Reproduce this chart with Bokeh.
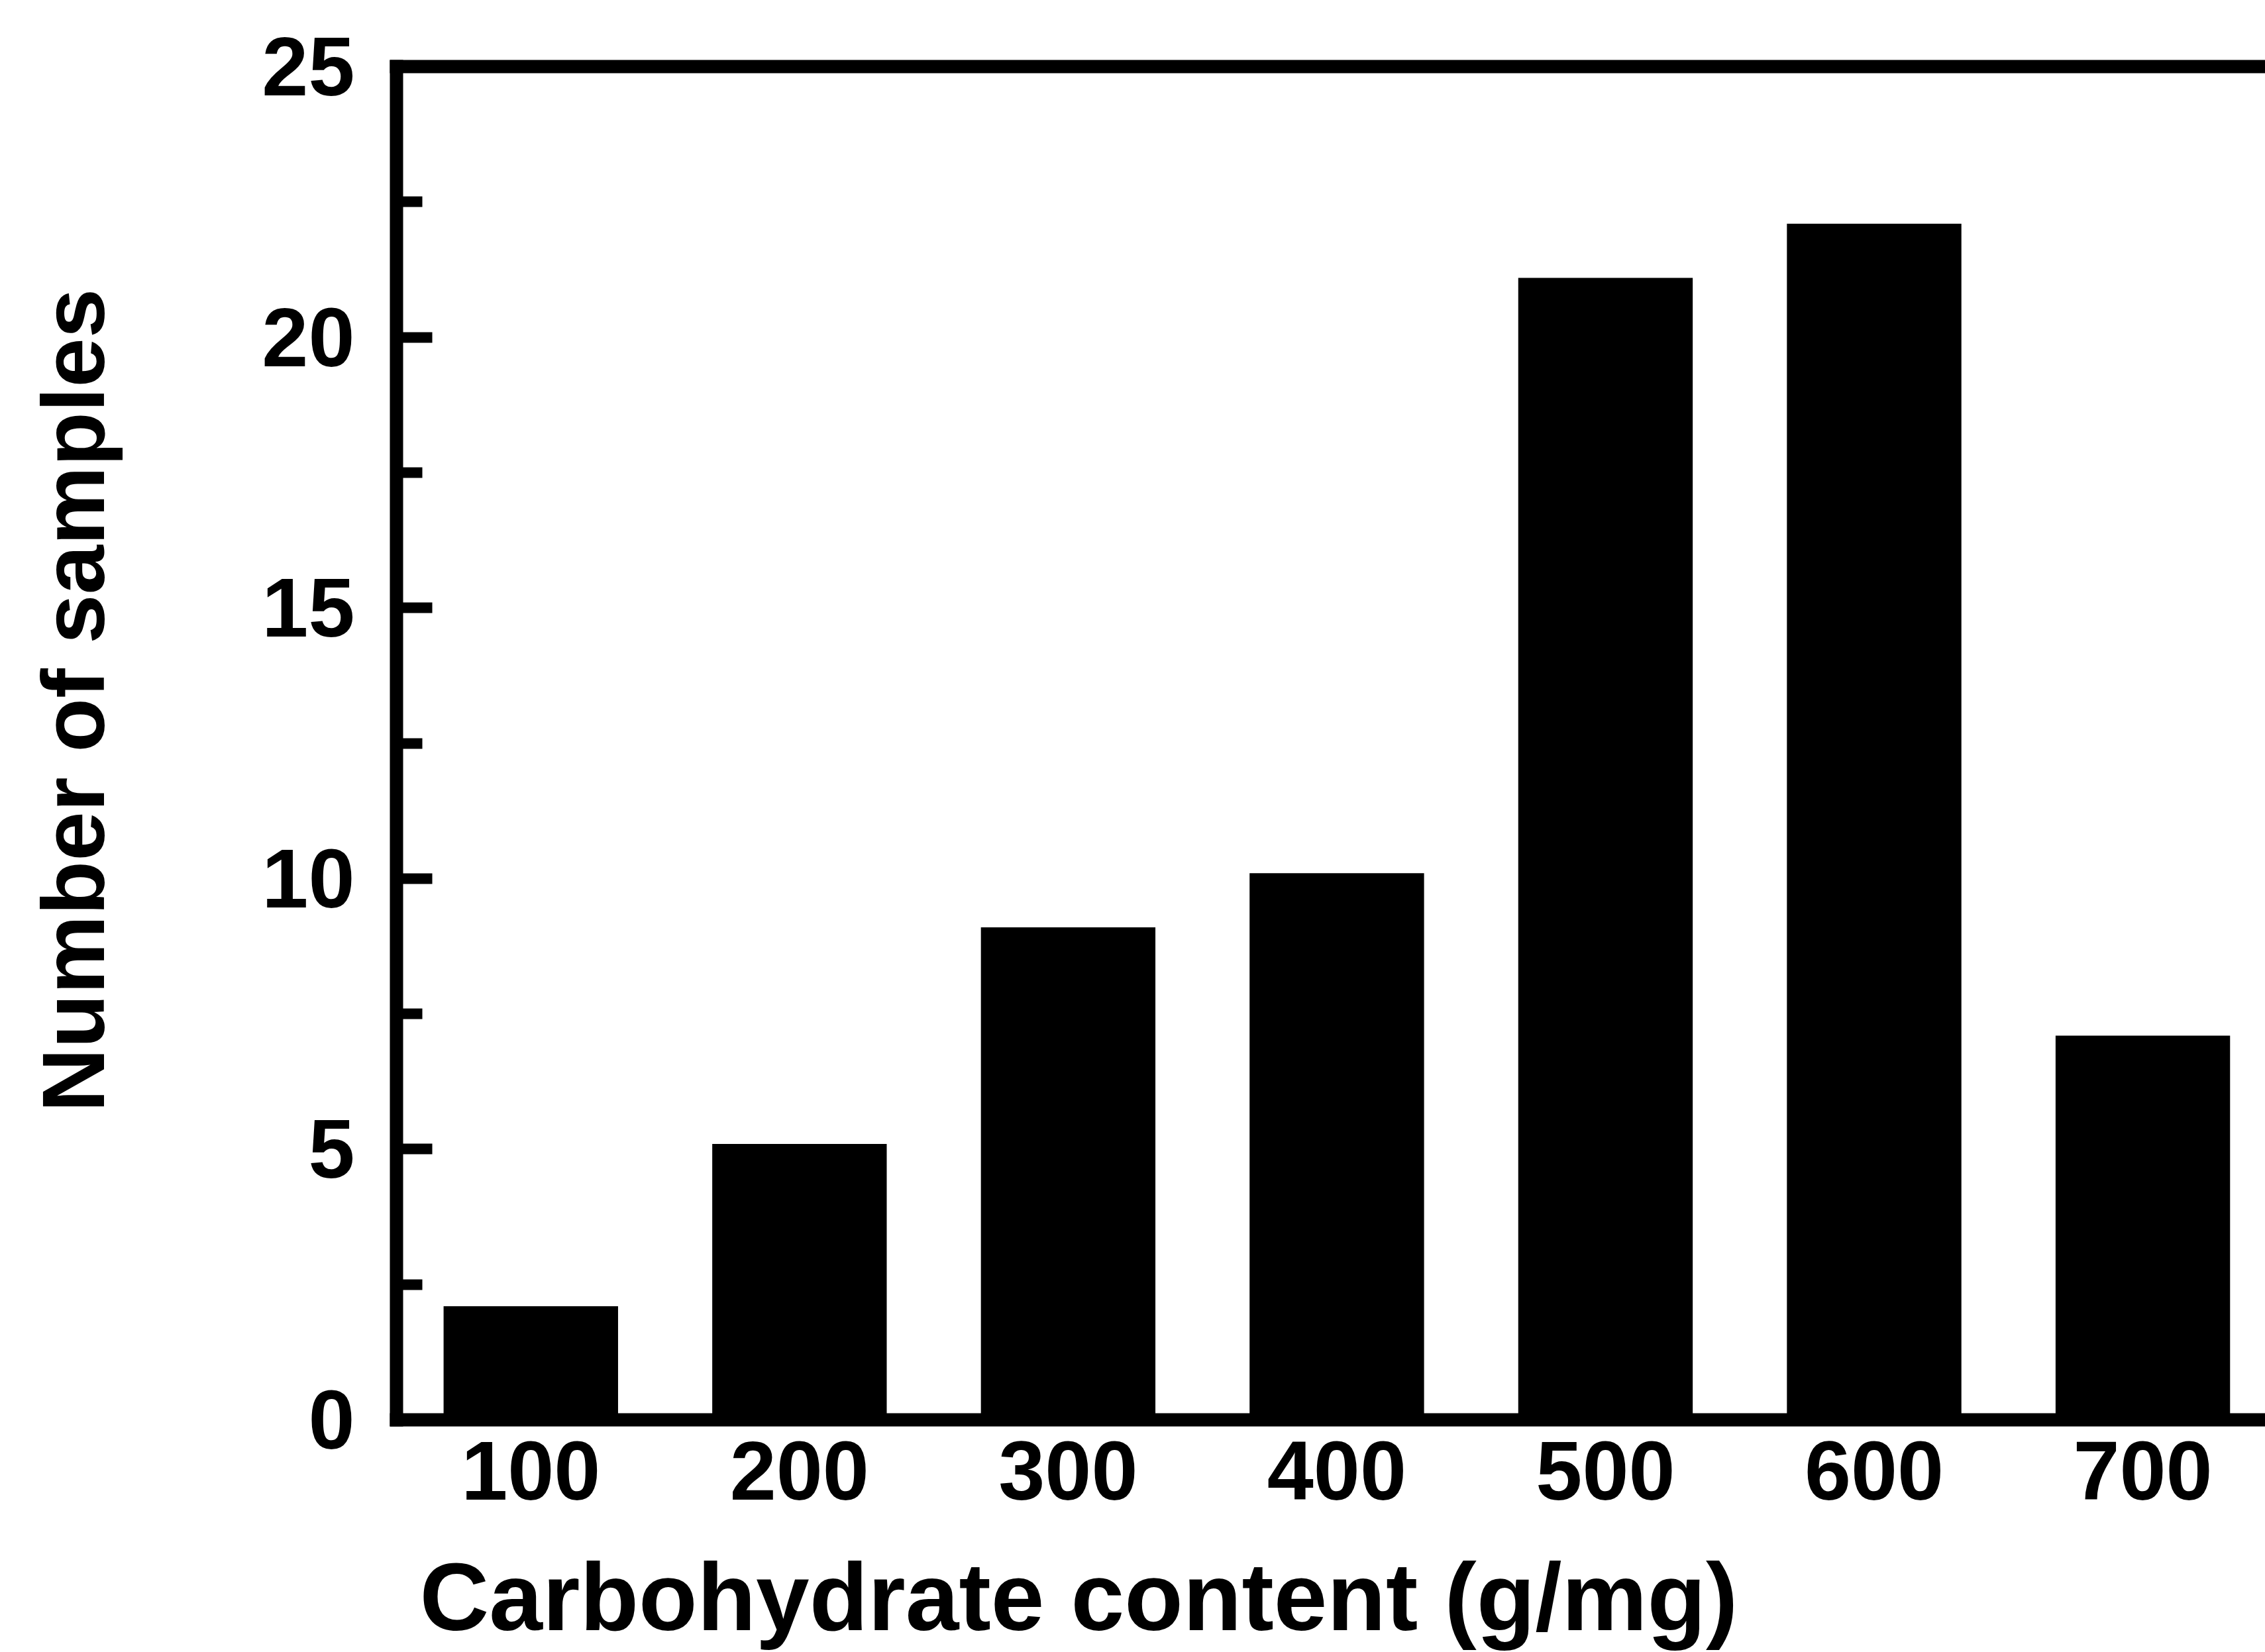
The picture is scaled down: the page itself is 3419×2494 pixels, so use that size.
from bokeh.plotting import figure
from bokeh.models import Range1d, FixedTicker, LinearAxis, Label
from bokeh.embed import file_html
from bokeh.resources import INLINE

# ---- data ----
carb_bins = [100, 200, 300, 400, 500, 600, 700]
sample_counts = [2, 5, 9, 10, 21, 22, 7]
y_major_ticks = [0, 5, 10, 15, 20, 25]
y_minor_ticks = [2.5, 7.5, 12.5, 17.5, 22.5]
x_label_text = "Carbohydrate content (g/mg)"
y_label_text = "Number of samples"

FONT = "Liberation Sans"
W, H = 3419, 2494
# pixel geometry of the plotting area in the reference
AX_LEFT_PX, ZERO_PX, TOP_PX = 598, 2143, 100
X0, X_END = 50, 745.6
Y0, Y1 = 0, 25
px_per_x = (W - AX_LEFT_PX) / (X_END - X0)
px_per_y = (ZERO_PX - TOP_PX) / (Y1 - Y0)
x_start = X0 - AX_LEFT_PX / px_per_x
y_start = Y0 - (H - ZERO_PX) / px_per_y
y_end = Y1 + TOP_PX / px_per_y

p = figure(width=W, height=H, output_backend="svg", toolbar_location=None,
           x_range=Range1d(x_start, X_END), y_range=Range1d(y_start, y_end),
           min_border_left=0, min_border_right=0, min_border_top=0,
           min_border_bottom=0, background_fill_color="white",
           border_fill_color="white", outline_line_color=None)
p.xgrid.visible = False
p.ygrid.visible = False

p.vbar(x=carb_bins, top=sample_counts, bottom=0, width=61,
       fill_color="black", line_color="black", line_width=16,
       line_join="miter")

# bottom axis
xa = p.xaxis[0]
xa.fixed_location = Y0
xa.bounds = (X0, X_END)
xa.ticker = FixedTicker(ticks=carb_bins)
xa.axis_line_width = 20
xa.axis_line_cap = "square"
xa.major_tick_in = 0
xa.major_tick_out = 0
xa.minor_tick_line_color = None
xa.major_label_standoff = 33
xa.major_label_text_font = FONT
xa.major_label_text_font_style = "bold"
xa.major_label_text_font_size = "126px"
xa.major_label_text_color = "black"

# left axis
ya = p.yaxis[0]
ya.fixed_location = X0
ya.bounds = (Y0, Y1)
ya.ticker = FixedTicker(ticks=y_major_ticks, minor_ticks=y_minor_ticks)
ya.axis_line_width = 20
ya.axis_line_cap = "square"
ya.major_tick_in = 54
ya.major_tick_out = 0
ya.minor_tick_in = 39
ya.minor_tick_out = 0
ya.major_tick_line_width = 16
ya.minor_tick_line_width = 16
ya.major_label_standoff = 63
ya.major_label_text_font = FONT
ya.major_label_text_font_style = "bold"
ya.major_label_text_font_size = "126px"
ya.major_label_text_color = "black"

# top border line
top = LinearAxis(fixed_location=Y1, bounds=(X0, X_END),
                 ticker=FixedTicker(ticks=[]), axis_line_width=20,
                 axis_line_cap="square", major_tick_line_color=None,
                 minor_tick_line_color=None, major_label_text_font_size="0px")
p.add_layout(top, "above")

# axis titles (screen units, measured from the bottom-left of the canvas)
p.add_layout(Label(x=1628, y=84, x_units="screen", y_units="screen",
                   text=x_label_text, text_align="center", text_baseline="alphabetic",
                   text_font=FONT, text_font_style="bold", text_font_size="145px",
                   text_color="black"))
p.add_layout(Label(x=110, y=H - 1057, x_units="screen", y_units="screen",
                   text=y_label_text, angle=90, angle_units="deg",
                   text_align="center", text_baseline="alphabetic",
                   text_font=FONT, text_font_style="bold", text_font_size="134px",
                   text_color="black"))

open("out.html", "w").write(file_html(p, INLINE))
